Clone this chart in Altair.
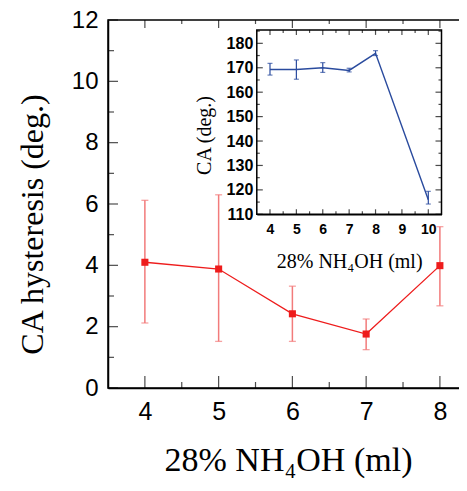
import altair as alt
import pandas as pd

# ---------------- data ----------------
# main chart: CA hysteresis vs 28% NH4OH volume
ml = [4, 5, 6, 7, 8]
hyst = [4.10, 3.88, 2.42, 1.76, 3.99]
hyst_lo = [2.12, 1.52, 1.52, 1.25, 2.68]
hyst_hi = [6.12, 6.30, 3.32, 2.25, 5.26]

# inset: CA vs 28% NH4OH volume
ml_in = [4, 5, 6, 7, 8, 10]
ca = [169.3, 169.3, 170.0, 168.9, 175.9, 116.0]
ca_lo = [167.0, 165.3, 168.1, 168.3, 175.0, 114.2]
ca_hi = [171.8, 173.2, 172.1, 169.8, 177.0, 119.4]

# axes
main_x_dom = [3.5, 8.381]
main_y_dom = [0, 12]
main_x_major = [4, 5, 6, 7, 8]
main_x_minor = [4.5, 5.5, 6.5, 7.5]
main_y_major = [0, 2, 4, 6, 8, 10, 12]
main_y_minor = [1, 3, 5, 7, 9, 11]

in_x_dom = [3.5, 10.5]
in_y_dom = [110, 185.5]
in_x_major = [4, 5, 6, 7, 8, 9, 10]
in_x_minor = [4.5, 5.5, 6.5, 7.5, 8.5, 9.5]
in_y_major = [110, 120, 130, 140, 150, 160, 170, 180]
in_y_minor = [115, 125, 135, 145, 155, 165, 175, 185]

x_title = "28% NH₄OH (ml)"
main_y_title = "CA hysteresis (deg.)"
in_y_title = "CA (deg.)"

RED = "#ee1c1c"
RED_ERR = "#f27b7b"
BLUE = "#2a4b9e"
SANS = "Liberation Sans"
SERIF = "Liberation Serif"

W, H = 360, 368

# ---------------- main chart ----------------
main_df = pd.DataFrame({"x": ml, "y": hyst, "lo": hyst_lo, "hi": hyst_hi})
main_caps = pd.DataFrame({"x": ml * 2, "y": hyst_lo + hyst_hi})

mx_scale = alt.Scale(domain=main_x_dom, nice=False, zero=False)
my_scale = alt.Scale(domain=main_y_dom, nice=False, zero=False)

mx_axis = alt.Axis(orient="bottom", values=main_x_major, ticks=False, grid=False,
                   domainColor="black", domainWidth=1.5, labelFont=SANS, labelFontSize=25,
                   labelColor="black", labelPadding=11, labelFlush=False,
                   title=x_title, titleFont=SERIF, titleFontSize=34, titleFontWeight="normal",
                   titleColor="black", titlePadding=19)
my_axis = alt.Axis(orient="left", values=main_y_major, ticks=False, grid=False,
                   domainColor="black", domainWidth=1.5, labelFont=SANS, labelFontSize=24,
                   labelColor="black", labelPadding=10, labelFlush=False,
                   title=main_y_title, titleFont=SERIF, titleFontSize=32, titleFontWeight="normal",
                   titleColor="black", titlePadding=22, titleY=204)


def MX(f):
    return alt.X(f, type="quantitative", scale=mx_scale, axis=mx_axis)


def MY(f):
    return alt.Y(f, type="quantitative", scale=my_scale, axis=my_axis)


main_err = alt.Chart(main_df).mark_rule(color=RED_ERR, strokeWidth=1.5).encode(
    x=MX("x"), y=MY("lo"), y2="hi")
main_cap = alt.Chart(main_caps).mark_tick(color=RED_ERR, orient="horizontal", size=7, thickness=1.3).encode(
    x=MX("x"), y=MY("y"))
main_line = alt.Chart(main_df).mark_line(color=RED, strokeWidth=1.3).encode(x=MX("x"), y=MY("y"))
main_pts = alt.Chart(main_df).mark_square(color=RED, size=50, opacity=1).encode(x=MX("x"), y=MY("y"))


def tick_layer(vals, edge, size, offset, orient, xs, ys):
    df = pd.DataFrame({"v": vals, "e": [edge] * len(vals)})
    if orient == "horizontal":
        enc = dict(x=xs("e"), y=ys("v"))
        m = alt.Chart(df).mark_tick(color="black", orient="horizontal", size=size, thickness=1.2, xOffset=offset)
    else:
        enc = dict(x=xs("v"), y=ys("e"))
        m = alt.Chart(df).mark_tick(color="black", orient="vertical", size=size, thickness=1.2, yOffset=offset)
    return m.encode(**enc)


main_ticks = [
    tick_layer(main_y_major, main_x_dom[0], 10, 5, "horizontal", MX, MY),
    tick_layer(main_y_minor, main_x_dom[0], 6, 3, "horizontal", MX, MY),
    tick_layer(main_y_major, main_x_dom[1], 8, -2, "horizontal", MX, MY),
    tick_layer(main_x_major, main_y_dom[0], 12, -6, "vertical", MX, MY),
    tick_layer(main_x_minor, main_y_dom[0], 6, -3, "vertical", MX, MY),
    tick_layer(main_x_major, main_y_dom[1], 8, 4, "vertical", MX, MY),
    tick_layer(main_x_minor, main_y_dom[1], 4, 2, "vertical", MX, MY),
]

main = alt.layer(main_err, main_cap, main_line, main_pts, *main_ticks)

# ---------------- inset ----------------
in_left, in_right = 148.8, 333.5      # plot-area-relative pixel range of inset
in_bottom, in_top = 194.3, 9.9

in_df = pd.DataFrame({"x": ml_in, "y": ca, "lo": ca_lo, "hi": ca_hi})
in_caps = pd.DataFrame({"x": ml_in * 2, "y": ca_lo + ca_hi})
in_frame = pd.DataFrame({"x": [in_x_dom[0]], "x2": [in_x_dom[1]], "y": [in_y_dom[0]], "y2": [in_y_dom[1]]})

ix_scale = alt.Scale(domain=in_x_dom, range=[in_left, in_right], nice=False, zero=False)
iy_scale = alt.Scale(domain=in_y_dom, range=[in_bottom, in_top], nice=False, zero=False)

ix_axis = alt.Axis(orient="bottom", offset=-(H - in_bottom), values=in_x_major, ticks=False, grid=False,
                   domainColor="black", domainWidth=1.5, labelFont=SANS, labelFontSize=14,
                   labelFontWeight="bold", labelColor="black", labelPadding=8, labelFlush=False,
                   title=x_title, titleFont=SERIF, titleFontSize=20, titleFontWeight="normal",
                   titleColor="black", titlePadding=15)
iy_axis = alt.Axis(orient="left", offset=-in_left, values=in_y_major, ticks=False, grid=False,
                   domainColor="black", domainWidth=1.5, labelFont=SANS, labelFontSize=16,
                   labelFontWeight="bold", labelColor="black", labelPadding=4, labelFlush=False,
                   title=in_y_title, titleFont=SERIF, titleFontSize=20, titleFontWeight="normal",
                   titleColor="black", titlePadding=12, titleY=115)


def IX(f):
    return alt.X(f, type="quantitative", scale=ix_scale, axis=ix_axis)


def IY(f):
    return alt.Y(f, type="quantitative", scale=iy_scale, axis=iy_axis)


in_box = alt.Chart(in_frame).mark_rect(fill="white", stroke="black", strokeWidth=1.5).encode(
    x=IX("x"), x2="x2", y=IY("y"), y2="y2")
in_err = alt.Chart(in_df).mark_rule(color=BLUE, strokeWidth=1.2).encode(x=IX("x"), y=IY("lo"), y2="hi")
in_cap = alt.Chart(in_caps).mark_tick(color=BLUE, orient="horizontal", size=5, thickness=1.2).encode(
    x=IX("x"), y=IY("y"))
in_line = alt.Chart(in_df).mark_line(color=BLUE, strokeWidth=1.4).encode(x=IX("x"), y=IY("y"))

in_ticks = [
    tick_layer(in_y_major, in_x_dom[0], 6, 3, "horizontal", IX, IY),
    tick_layer(in_y_minor, in_x_dom[0], 3, 1.5, "horizontal", IX, IY),
    tick_layer(in_y_major, in_x_dom[1], 6, -3, "horizontal", IX, IY),
    tick_layer(in_y_minor, in_x_dom[1], 3, -1.5, "horizontal", IX, IY),
    tick_layer(in_x_major, in_y_dom[0], 5, -2.5, "vertical", IX, IY),
    tick_layer(in_x_minor, in_y_dom[0], 3, -1.5, "vertical", IX, IY),
    tick_layer(in_x_major, in_y_dom[1], 5, 2.5, "vertical", IX, IY),
    tick_layer(in_x_minor, in_y_dom[1], 3, 1.5, "vertical", IX, IY),
]

inset = alt.layer(in_box, in_err, in_cap, in_line, *in_ticks)

chart = alt.layer(main, inset).resolve_scale(x="independent", y="independent").properties(
    width=W, height=H,
    autosize=alt.AutoSizeParams(type="none"),
    padding={"left": 100, "top": 12, "right": -9, "bottom": 95},
    background="white",
).configure_view(stroke="black", strokeWidth=1.5)

chart.save("out.html", embed_options={"renderer": "svg", "actions": False})
